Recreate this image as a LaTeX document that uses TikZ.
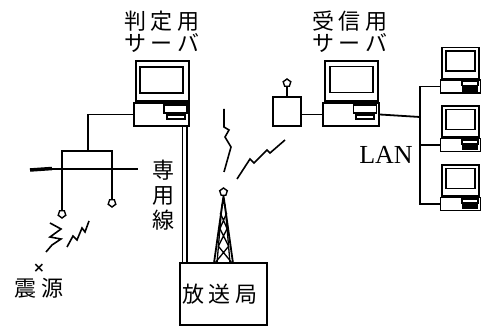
\documentclass[tikz,border=0pt]{standalone}
\usepackage{fontspec}
\setmainfont{Liberation Serif}
\newfontfamily\jpfont{Noto Sans CJK JP}
\newfontfamily\markfont{DejaVu Sans}
\usetikzlibrary{shapes.geometric}

\newcommand{\gap}{\kern5pt}

\begin{document}
\begin{tikzpicture}[
    x=1pt, y=-1pt,
    line width=1.8pt,
    box/.style={draw, rectangle, inner sep=0pt},
    screen/.style={box, minimum width=43, minimum height=26},
    monitor/.style={box, minimum width=53, minimum height=40},
    base/.style={box, minimum width=55, minimum height=23},
    drive/.style={box, minimum width=23, minimum height=8},
    slot/.style={box, minimum width=18, minimum height=4, line width=1.4pt},
    jp/.style={font=\jpfont\fontsize{22}{22}\selectfont, inner sep=0pt, align=center},
    knob/.style={draw, regular polygon, regular polygon sides=5, minimum size=8,
      inner sep=0pt, line width=1.4pt, fill=white},
    bolt/.style={line width=1.6pt, line join=miter},
  ]
  \useasboundingbox (0,0) rectangle (488,326);

  % Judging server
  \node[jp] (jlabel) at (162,32) {判\gap 定\gap 用\\サ\gap ー\gap バ};
  \node[monitor] (jmon) at (162.5,81) {};
  \node[screen] (jscr) at (161.5,80) {};
  \node[base] (jbase) at (161.5,114.5) {};
  \node[drive] (jdrv) at (175.5,109) {};
  \node[slot] (jslot) at (176,117) {};

  % Seismometer frame and ground
  \draw[line width=3.5pt] (30,170) -- (52,168.5);
  \draw (30,169) -- (138,169);
  \coordinate (frame) at (88,151);
  \node[knob, shape border rotate=180] (s1) at (62,214) {};
  \node[knob, shape border rotate=180] (s2) at (112,203) {};
  \draw (s1) |- (frame) -| (s2);
  \draw (jbase.west) -| (frame);

  % Seismic waves and epicentre
  \draw[bolt] (50,223) -- (61,229) -- (50,237) -- (61,239) -- (52,245) -- (46,252);
  \draw[bolt] (67,247) -- (73,236) -- (77,240) -- (82,228) -- (85,232) -- (89,221);
  \node[font=\markfont\bfseries\fontsize{14}{14}\selectfont, inner sep=0pt] (epi) at (39,268) {×};
  \node[jp] (src) at (39,288) {震\gap 源};

  % Leased line to the broadcast station
  \node[box, minimum width=87, minimum height=62] (station) at (223.5,294) {};
  \node[jp] at (220,294) {放\gap 送\gap 局};
  \draw[double, double distance=3pt, line width=1.3pt]
    ([xshift=-5pt]jbase.south east) -- ([xshift=-5pt]jbase.south east |- station.north);
  \node[jp, font=\jpfont\fontsize{22}{25}\selectfont] (leased) at (163,195) {専\\用\\線};

  % Transmitting tower
  \node[knob] (top) at (223.5,192) {};
  \draw (top.south) -- (214,263) (top.south) -- (233,263);
  \draw[line width=1.3pt] (222,204) -- (217,263) (225,204) -- (230,263);
  \draw[line width=1.3pt]
    (220.3,213) -- (226.8,228) (226.7,213) -- (220.2,228)
    (219.6,228) -- (228.5,246) (227.4,228) -- (218.5,246)
    (218.2,246) -- (232,263) (228.8,246) -- (215,263);

  % Radio links
  \draw[bolt] (224,109) -- (224,127) -- (229,130) -- (225,137) -- (231,147) -- (224,172);
  \draw[bolt] (237,179) -- (250,159) -- (254,163) -- (267,150) -- (270,153) -- (285,140);

  % Receiving antenna
  \node[box, minimum width=28, minimum height=29] (rx) at (287,111.5) {};
  \node[knob] (ant) at (287,83) {};
  \draw[line width=1.4pt] (ant) -- (rx);

  % Receiving server
  \node[jp] (rlabel) at (350,32) {受\gap 信\gap 用\\サ\gap ー\gap バ};
  \node[monitor] (rmon) at (351.5,81) {};
  \node[screen] (rscr) at (351.5,79.5) {};
  \node[base, minimum width=56] (rbase) at (351,114.5) {};
  \node[drive] (rdrv) at (365,109) {};
  \node[slot] (rslot) at (365,117) {};
  \draw (rx.east |- rbase.west) -- (rbase.west);

  % LAN clients
  \foreach \i/\y in {1/86.5, 2/145, 3/204} {
    \node[box, minimum width=37, minimum height=31] (cm\i) at (460.5,\y-23.5) {};
    \node[box, minimum width=29, minimum height=20, line width=1.5pt] (cs\i) at (460.5,\y-25.5) {};
    \node[box, minimum width=40, minimum height=13] (cb\i) at (460.5,\y) {};
    \node[box, minimum width=16, minimum height=4, line width=1.3pt] (cd\i) at (470,\y-3) {};
    \node[box, fill=black, minimum width=14, minimum height=4] (ck\i) at (470,\y+2.5) {};
  }
  \coordinate (lan) at (420,117);
  \draw (rbase.east) -- (lan);
  \draw (cb1.west) -- (cb1.west -| lan) -- (cb3.west -| lan) -- (cb3.west);
  \draw (cb2.west) -- (cb2.west -| lan);
  \node[font=\fontsize{26}{28}\selectfont, inner sep=0pt] (lanlabel) at (386,155) {LAN};
\end{tikzpicture}
\end{document}
